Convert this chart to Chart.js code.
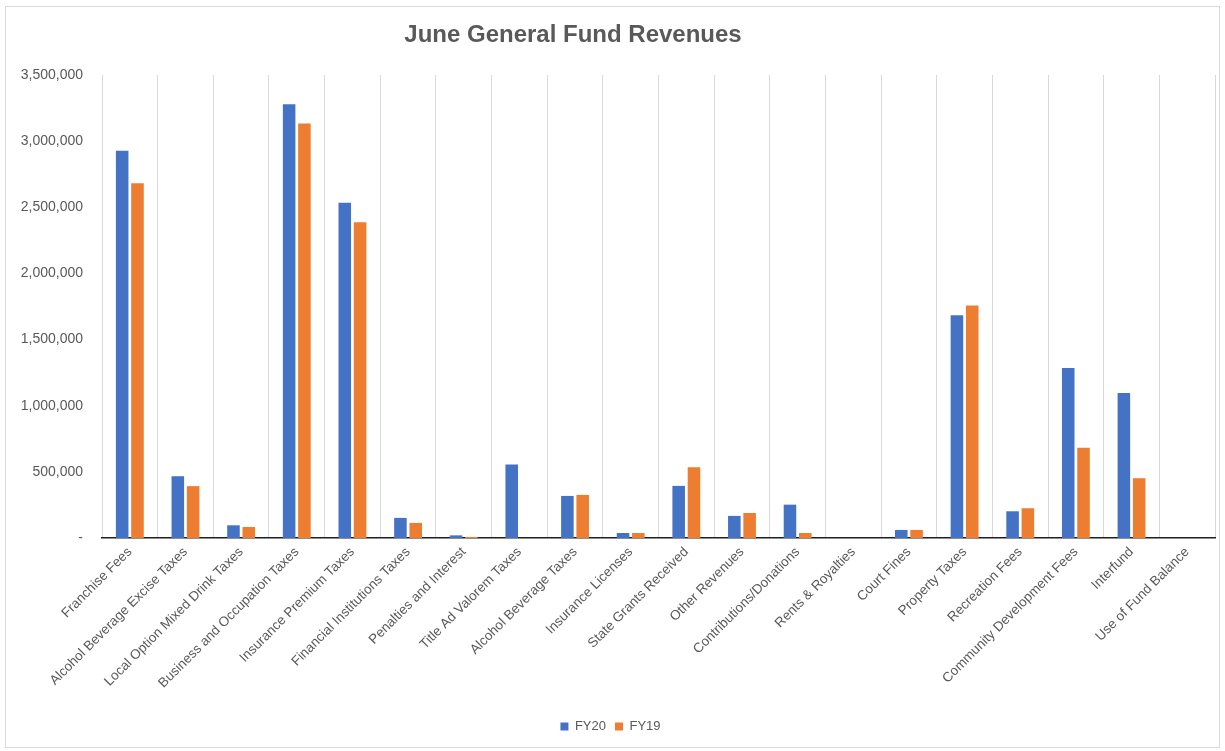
<!DOCTYPE html>
<html>
<head>
<meta charset="utf-8">
<script src="https://cdn.jsdelivr.net/npm/chart.js@4/dist/chart.umd.min.js"></script>
<style>
  html, body { margin: 0; padding: 0; background: #ffffff; }
  #wrap { position: absolute; left: 5px; top: 6px; width: 1215px; height: 742px; border: 1px solid #d9d9d9; box-sizing: border-box; }
  #wrap canvas { display: block; }
</style>
</head>
<body>
<div id="wrap"><canvas id="c" width="1213" height="740"></canvas></div>
<script>
const chartTitle = 'June General Fund Revenues';
const categories = [
  'Franchise Fees',
  'Alcohol Beverage Excise Taxes',
  'Local Option Mixed Drink Taxes',
  'Business and Occupation Taxes',
  'Insurance Premium Taxes',
  'Financial Institutions Taxes',
  'Penalties and Interest',
  'Title Ad Valorem Taxes',
  'Alcohol Beverage Taxes',
  'Insurance Licenses',
  'State Grants Received',
  'Other Revenues',
  'Contributions/Donations',
  'Rents & Royalties',
  'Court Fines',
  'Property Taxes',
  'Recreation Fees',
  'Community Development Fees',
  'Interfund',
  'Use of Fund Balance'
];
const seriesNames = ['FY20', 'FY19'];
const fy20 = [2927000, 467000, 96000, 3278000, 2535000, 152000, 20000, 555000, 318000, 38000, 394000, 167000, 252000, 0, 61000, 1684000, 202000, 1285000, 1096000, 0];
const fy19 = [2682000, 392000, 83000, 3134000, 2386000, 114000, 8000, 0, 326000, 38000, 535000, 189000, 38000, 0, 61000, 1758000, 225000, 682000, 452000, 0];
const yMin = 0, yMax = 3500000, yStep = 500000;

const textColor = '#595959';
const fontFam = '"Liberation Sans", Arial, sans-serif';

const titlePlugin = {
  id: 'excelTitle',
  afterDraw(chart) {
    const ctx = chart.ctx;
    ctx.save();
    ctx.font = 'bold 24px ' + fontFam;
    ctx.fillStyle = textColor;
    ctx.textAlign = 'center';
    ctx.textBaseline = 'middle';
    ctx.fillText(chartTitle, 567, 28);
    ctx.restore();
  }
};

new Chart(document.getElementById('c'), {
  type: 'bar',
  data: {
    labels: categories,
    datasets: [
      { label: seriesNames[0], data: fy20, backgroundColor: '#4472C4', borderWidth: 0 },
      { label: seriesNames[1], data: fy19, backgroundColor: '#ED7D31', borderWidth: 0 }
    ]
  },
  options: {
    responsive: false,
    animation: false,
    devicePixelRatio: 1,
    categoryPercentage: 0.55,
    barPercentage: 0.82,
    layout: { padding: { top: 68, right: 4, bottom: 4, left: 0 } },
    plugins: {
      title: { display: false },
      tooltip: { enabled: false },
      legend: {
        position: 'bottom',
        labels: {
          boxWidth: 8,
          boxHeight: 8,
          padding: 9,
          color: textColor,
          font: { family: fontFam, size: 13 }
        }
      }
    },
    scales: {
      x: {
        offset: true,
        grid: { display: true, offset: true, color: '#d9d9d9', lineWidth: 1, drawTicks: false },
        border: { display: true, color: '#1f1f1f', width: 1.5 },
        ticks: {
          autoSkip: false,
          minRotation: 45,
          maxRotation: 45,
          padding: 6,
          color: textColor,
          font: { family: fontFam, size: 13.5 }
        },
        afterFit(scale) { scale.height = 173; }
      },
      y: {
        min: yMin,
        max: yMax,
        grid: { display: false },
        border: { display: false },
        ticks: {
          stepSize: yStep,
          padding: 11,
          color: textColor,
          font: { family: fontFam, size: 14 },
          callback: (v) => v === 0 ? '-' : Number(v).toLocaleString('en-US')
        },
        afterFit(scale) { scale.width = 96; }
      }
    }
  },
  plugins: [titlePlugin]
});
</script>
</body>
</html>
